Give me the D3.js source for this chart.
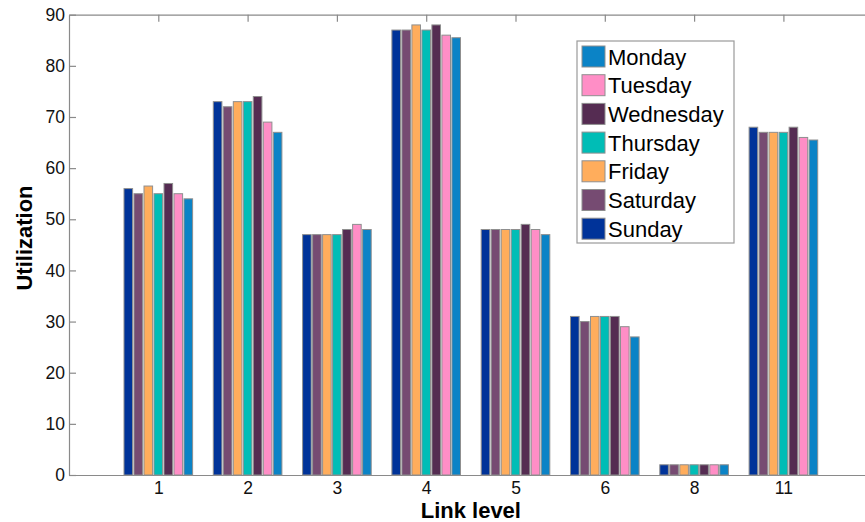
<!DOCTYPE html>
<html>
<head>
<meta charset="utf-8">
<script src="https://cdn.jsdelivr.net/npm/d3@7"></script>
<style>
  html, body { margin: 0; padding: 0; background: #fff; }
  svg { display: block; font-family: "Liberation Sans", Arial, sans-serif; }
</style>
</head>
<body>
<svg id="chart" width="865" height="522"></svg>
<script>
// Link levels shown along the x axis
const linkLevels = ["1", "2", "3", "4", "5", "6", "8", "11"];

// Utilization per weekday, one value per link level
const monday    = [54, 67, 48, 85.5, 47, 27, 2, 65.5];
const tuesday   = [55, 69, 49, 86, 48, 29, 2, 66];
const wednesday = [57, 74, 48, 88, 49, 31, 2, 68];
const thursday  = [55, 73, 47, 87, 48, 31, 2, 67];
const friday    = [56.5, 73, 47, 88, 48, 31, 2, 67];
const saturday  = [55, 72, 47, 87, 48, 30, 2, 67];
const sunday    = [56, 73, 47, 87, 48, 31, 2, 68];

const dayNames  = ["Monday", "Tuesday", "Wednesday", "Thursday", "Friday", "Saturday", "Sunday"];
const dayValues = [monday, tuesday, wednesday, thursday, friday, saturday, sunday];
const dayColors = ["#0b83c6", "#ff8ec6", "#552c52", "#00bdb6", "#ffad5c", "#764b72", "#003399"];

const yTicks = [0, 10, 20, 30, 40, 50, 60, 70, 80, 90];

// Bars inside each group run from Sunday back to Monday
const barOrder = [6, 5, 4, 3, 2, 1, 0];

const svg = d3.select("#chart");
const axisColor = "#8a8a8a";

const plotLeft = 69, plotRight = 872.7, plotTop = 14.7, plotBottom = 475;

const x = d3.scaleLinear().domain([0, linkLevels.length + 1]).range([plotLeft, plotRight]);
const y = d3.scaleLinear().domain([0, 90]).range([plotBottom, plotTop]);

const groupWidth = 0.784;
const pitch = groupWidth / barOrder.length;
const barWidth = pitch * 0.86;

// Frame: axes on all four sides, ticks pointing inward
const gBottom = svg.append("g")
  .attr("transform", `translate(0,${plotBottom})`)
  .call(d3.axisBottom(x)
    .tickValues(d3.range(1, linkLevels.length + 1))
    .tickFormat(i => linkLevels[i - 1])
    .tickSize(-7).tickSizeOuter(0).tickPadding(7));

const gTop = svg.append("g")
  .attr("transform", `translate(0,${plotTop})`)
  .call(d3.axisTop(x)
    .tickValues(d3.range(1, linkLevels.length + 1))
    .tickFormat("")
    .tickSize(-7).tickSizeOuter(0));

const gLeft = svg.append("g")
  .attr("transform", `translate(${plotLeft},0)`)
  .call(d3.axisLeft(y).tickValues(yTicks).tickFormat(d3.format("d"))
    .tickSize(-7).tickSizeOuter(0).tickPadding(4));

const gRight = svg.append("g")
  .attr("transform", `translate(${plotRight},0)`)
  .call(d3.axisRight(y).tickValues(yTicks).tickFormat("")
    .tickSize(-7).tickSizeOuter(0));

[gBottom, gTop, gLeft, gRight].forEach(g => {
  g.selectAll("path.domain").attr("stroke", axisColor).attr("stroke-width", 1.2);
  g.selectAll(".tick line").attr("stroke", axisColor).attr("stroke-width", 1.2);
  g.selectAll(".tick text").attr("fill", "#111").attr("font-size", 17.5)
    .attr("font-family", "'Liberation Sans', Arial, sans-serif");
});

// Grouped bars
const barData = [];
linkLevels.forEach((lvl, i) => {
  barOrder.forEach((d, k) => {
    barData.push({ group: i + 1, slot: k, day: d, value: dayValues[d][i] });
  });
});

svg.append("g").selectAll("rect")
  .data(barData)
  .join("rect")
  .attr("x", b => x(b.group - groupWidth / 2 + pitch * (b.slot + 0.5) - barWidth / 2))
  .attr("width", b => x(barWidth) - x(0))
  .attr("y", b => y(b.value))
  .attr("height", b => y(0) - y(b.value))
  .attr("fill", b => dayColors[b.day])
  .attr("stroke", "#8f8f8f")
  .attr("stroke-width", 1);

// Axis titles
svg.append("text")
  .attr("x", (plotLeft + plotRight) / 2)
  .attr("y", 518)
  .attr("text-anchor", "middle")
  .attr("font-size", 22)
  .attr("font-weight", "bold")
  .attr("fill", "#000")
  .text("Link level");

svg.append("text")
  .attr("transform", "translate(32,238) rotate(-90)")
  .attr("text-anchor", "middle")
  .attr("font-size", 22)
  .attr("font-weight", "bold")
  .attr("fill", "#000")
  .text("Utilization");

// Legend
const legend = svg.append("g").attr("transform", "translate(577,41)");
legend.append("rect")
  .attr("width", 157).attr("height", 202)
  .attr("fill", "#fff").attr("stroke", "#9a9a9a").attr("stroke-width", 1.2);

const rowPitch = 28.7;
const items = legend.selectAll("g.item")
  .data(dayNames)
  .join("g")
  .attr("class", "item")
  .attr("transform", (d, i) => `translate(0,${5 + i * rowPitch})`);

items.append("rect")
  .attr("x", 5).attr("y", 0)
  .attr("width", 23).attr("height", 21)
  .attr("fill", (d, i) => dayColors[i])
  .attr("stroke", "#8f8f8f").attr("stroke-width", 1);

items.append("text")
  .attr("x", 31).attr("y", 18.5)
  .attr("font-size", 22)
  .attr("fill", "#000")
  .text(d => d);
</script>
</body>
</html>
